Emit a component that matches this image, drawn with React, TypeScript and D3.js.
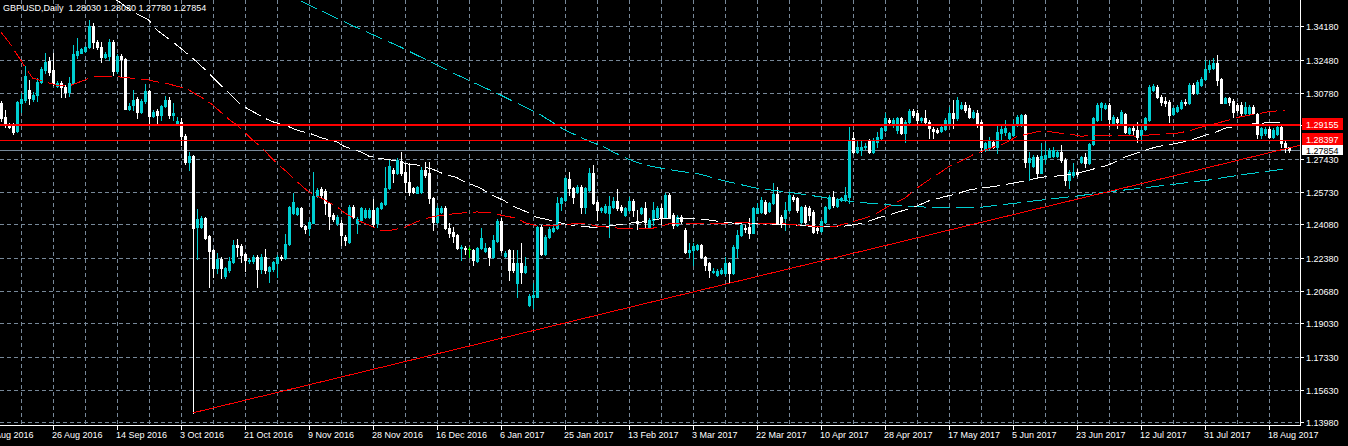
import React from "react";
import * as d3 from "d3";

const TITLE = "GBPUSD,Daily  1.28030 1.28030 1.27780 1.27854";

// bar index of the first candle in the arrays (bar 0 = 8 Aug 2016, 6 bars per week incl. Sunday)
const FIRST_BAR = 3;

const opens = [
  1.3025, 1.2957, 1.2915, 1.2920, 1.2886, 1.3025, 1.3042, 1.3093, 1.3049, 1.3067,
  1.3136, 1.3195, 1.3243, 1.3195, 1.3113, 1.3130, 1.3110, 1.3084, 1.3130, 1.3271,
  1.3283, 1.3294, 1.3311, 1.3419, 1.3339, 1.3314, 1.3263, 1.3266, 1.3339, 1.3190,
  1.3266, 1.3249, 1.2996, 1.3016, 1.3045, 1.2982, 1.3037, 1.3088, 1.2960, 1.2986,
  1.2966, 1.3011, 1.3042, 1.2964, 1.2918, 1.2932, 1.2860, 1.2727, 1.2756, 1.2396,
  1.2396, 1.2442, 1.2348, 1.2277, 1.2184, 1.2231, 1.2144, 1.2175, 1.2218, 1.2303,
  1.2297, 1.2255, 1.2219, 1.2219, 1.2243, 1.2178, 1.2240, 1.2170, 1.2178, 1.2209,
  1.2243, 1.2235, 1.2306, 1.2464, 1.2461, 1.2490, 1.2399, 1.2388, 1.2416, 1.2554,
  1.2586, 1.2580, 1.2518, 1.2456, 1.2413, 1.2416, 1.2342, 1.2320, 1.2498, 1.2413,
  1.2430, 1.2447, 1.2447, 1.2481, 1.2413, 1.2490, 1.2512, 1.2592, 1.2685, 1.2668,
  1.2731, 1.2676, 1.2625, 1.2591, 1.2569, 1.2574, 1.2685, 1.2668, 1.2541, 1.2422,
  1.2473, 1.2493, 1.2391, 1.2371, 1.2353, 1.2285, 1.2285, 1.2282, 1.2277, 1.2223,
  1.2285, 1.2274, 1.2285, 1.2240, 1.2325, 1.2427, 1.2248, 1.2277, 1.2209, 1.2107,
  1.2212, 1.2167, 1.1997, 1.2039, 1.2039, 1.2393, 1.2257, 1.2342, 1.2374, 1.2388,
  1.2515, 1.2532, 1.2637, 1.2591, 1.2574, 1.2600, 1.2498, 1.2583, 1.2668, 1.2524,
  1.2481, 1.2473, 1.2467, 1.2498, 1.2529, 1.2498, 1.2456, 1.2481, 1.2529, 1.2427,
  1.2467, 1.2489, 1.2396, 1.2430, 1.2447, 1.2490, 1.2447, 1.2558, 1.2455, 1.2404,
  1.2447, 1.2379, 1.2269, 1.2277, 1.2280, 1.2302, 1.2240, 1.2209, 1.2165, 1.2150,
  1.2158, 1.2158, 1.2212, 1.2158, 1.2286, 1.2354, 1.2391, 1.2393, 1.2365, 1.2467,
  1.2473, 1.2522, 1.2478, 1.2515, 1.2561, 1.2447, 1.2438, 1.2481, 1.2549, 1.2540,
  1.2422, 1.2495, 1.2490, 1.2473, 1.2387, 1.2376, 1.2422, 1.2490, 1.2549, 1.2501,
  1.2532, 1.2532, 1.2549, 1.2846, 1.2778, 1.2787, 1.2801, 1.2835, 1.2778, 1.2829,
  1.2846, 1.2889, 1.2940, 1.2915, 1.2889, 1.2949, 1.2872, 1.2932, 1.2986, 1.2974,
  1.2940, 1.2949, 1.2932, 1.2892, 1.2889, 1.2886, 1.2892, 1.2923, 1.2977, 1.2949,
  1.3000, 1.3017, 1.3000, 1.2957, 1.2977, 1.2932, 1.2790, 1.2804, 1.2830, 1.2804,
  1.2875, 1.2881, 1.2847, 1.2864, 1.2915, 1.2915, 1.2966, 1.2728, 1.2705, 1.2750,
  1.2671, 1.2744, 1.2753, 1.2756, 1.2756, 1.2779, 1.2736, 1.2634, 1.2660, 1.2677,
  1.2728, 1.2750, 1.2719, 1.2818, 1.2940, 1.3008, 1.3000, 1.3017, 1.2926, 1.2943,
  1.2926, 1.2971, 1.2875, 1.2898, 1.2889, 1.2864, 1.2892, 1.2940, 1.3093, 1.3110,
  1.3059, 1.3039, 1.3034, 1.2971, 1.2988, 1.3003, 1.3034, 1.3025, 1.3119, 1.3076,
  1.3119, 1.3147, 1.3198, 1.3204, 1.3232, 1.3147, 1.3028, 1.3051, 1.3039, 1.3017,
  1.3017, 1.2977, 1.2977, 1.3008, 1.2971, 1.2864, 1.2872, 1.2892, 1.2855, 1.2869,
  1.2903, 1.2821, 1.2803,
];

const highs = [
  1.3039, 1.2991, 1.2923, 1.2926, 1.3039, 1.3076, 1.3215, 1.3144, 1.3084, 1.3153,
  1.3212, 1.3280, 1.3263, 1.3280, 1.3141, 1.3141, 1.3119, 1.3161, 1.3322, 1.3357,
  1.3306, 1.3317, 1.3450, 1.3433, 1.3348, 1.3336, 1.3288, 1.3351, 1.3348, 1.3275,
  1.3275, 1.3254, 1.3025, 1.3093, 1.3056, 1.3045, 1.3124, 1.3093, 1.2991, 1.2994,
  1.3016, 1.3062, 1.3056, 1.3025, 1.2954, 1.2949, 1.2869, 1.2775, 1.2761, 1.2484,
  1.2450, 1.2447, 1.2353, 1.2280, 1.2260, 1.2243, 1.2192, 1.2243, 1.2328, 1.2331,
  1.2308, 1.2263, 1.2235, 1.2251, 1.2251, 1.2258, 1.2280, 1.2195, 1.2223, 1.2251,
  1.2251, 1.2357, 1.2501, 1.2569, 1.2498, 1.2498, 1.2404, 1.2430, 1.2673, 1.2591,
  1.2597, 1.2586, 1.2524, 1.2464, 1.2456, 1.2430, 1.2353, 1.2507, 1.2507, 1.2444,
  1.2498, 1.2490, 1.2490, 1.2535, 1.2498, 1.2524, 1.2699, 1.2736, 1.2694, 1.2744,
  1.2779, 1.2719, 1.2719, 1.2600, 1.2605, 1.2702, 1.2728, 1.2728, 1.2549, 1.2501,
  1.2501, 1.2501, 1.2413, 1.2396, 1.2359, 1.2302, 1.2297, 1.2294, 1.2282, 1.2291,
  1.2388, 1.2311, 1.2294, 1.2353, 1.2433, 1.2439, 1.2274, 1.2280, 1.2277, 1.2277,
  1.2314, 1.2240, 1.2053, 1.2107, 1.2399, 1.2405, 1.2353, 1.2393, 1.2405, 1.2549,
  1.2549, 1.2651, 1.2676, 1.2600, 1.2608, 1.2608, 1.2600, 1.2693, 1.2710, 1.2532,
  1.2498, 1.2512, 1.2552, 1.2549, 1.2586, 1.2507, 1.2498, 1.2549, 1.2535, 1.2481,
  1.2498, 1.2524, 1.2439, 1.2524, 1.2501, 1.2512, 1.2569, 1.2566, 1.2464, 1.2455,
  1.2455, 1.2387, 1.2311, 1.2311, 1.2308, 1.2308, 1.2246, 1.2217, 1.2184, 1.2178,
  1.2184, 1.2243, 1.2217, 1.2302, 1.2379, 1.2422, 1.2404, 1.2438, 1.2498, 1.2515,
  1.2549, 1.2532, 1.2524, 1.2617, 1.2600, 1.2455, 1.2524, 1.2566, 1.2559, 1.2549,
  1.2501, 1.2506, 1.2501, 1.2481, 1.2399, 1.2433, 1.2501, 1.2558, 1.2580, 1.2540,
  1.2549, 1.2600, 1.2906, 1.2880, 1.2838, 1.2838, 1.2821, 1.2841, 1.2846, 1.2880,
  1.2906, 1.2974, 1.2949, 1.2949, 1.2957, 1.2957, 1.2940, 1.2994, 1.2994, 1.2991,
  1.2957, 1.2991, 1.2940, 1.2906, 1.2897, 1.2915, 1.2949, 1.3008, 1.3042, 1.3057,
  1.3034, 1.3034, 1.3017, 1.2991, 1.2991, 1.2940, 1.2830, 1.2855, 1.2838, 1.2915,
  1.2915, 1.2940, 1.2881, 1.2940, 1.2966, 1.2971, 1.2971, 1.2779, 1.2761, 1.2761,
  1.2821, 1.2821, 1.2796, 1.2804, 1.2787, 1.2813, 1.2745, 1.2685, 1.2719, 1.2688,
  1.2756, 1.2770, 1.2824, 1.2954, 1.3025, 1.3034, 1.3028, 1.3025, 1.2966, 1.2954,
  1.2991, 1.2977, 1.2906, 1.2909, 1.2932, 1.2898, 1.2957, 1.3119, 1.3122, 1.3119,
  1.3068, 1.3059, 1.3042, 1.3008, 1.3017, 1.3042, 1.3045, 1.3127, 1.3127, 1.3144,
  1.3158, 1.3246, 1.3246, 1.3255, 1.3272, 1.3153, 1.3059, 1.3059, 1.3045, 1.3025,
  1.3034, 1.3034, 1.3017, 1.3017, 1.2977, 1.2906, 1.2906, 1.2903, 1.2898, 1.2915,
  1.2909, 1.2838, 1.2803,
];

const lows = [
  1.2937, 1.2903, 1.2897, 1.2869, 1.2881, 1.2983, 1.3034, 1.3022, 1.3039, 1.3039,
  1.3127, 1.3178, 1.3170, 1.3119, 1.3107, 1.3059, 1.3059, 1.3062, 1.3127, 1.3254,
  1.3280, 1.3289, 1.3306, 1.3306, 1.3300, 1.3237, 1.3254, 1.3246, 1.3170, 1.3181,
  1.3161, 1.2994, 1.2991, 1.2991, 1.2948, 1.2974, 1.3028, 1.2923, 1.2954, 1.2923,
  1.2940, 1.3005, 1.2948, 1.2940, 1.2915, 1.2813, 1.2716, 1.2685, 1.1446, 1.2229,
  1.2388, 1.2331, 1.2090, 1.2141, 1.2158, 1.2133, 1.2133, 1.2166, 1.2212, 1.2246,
  1.2218, 1.2170, 1.2212, 1.2209, 1.2087, 1.2158, 1.2158, 1.2116, 1.2172, 1.2141,
  1.2226, 1.2229, 1.2301, 1.2461, 1.2456, 1.2396, 1.2365, 1.2354, 1.2413, 1.2549,
  1.2549, 1.2461, 1.2382, 1.2427, 1.2404, 1.2302, 1.2302, 1.2314, 1.2439, 1.2362,
  1.2422, 1.2439, 1.2439, 1.2396, 1.2396, 1.2484, 1.2507, 1.2586, 1.2626, 1.2663,
  1.2660, 1.2574, 1.2557, 1.2566, 1.2566, 1.2569, 1.2651, 1.2515, 1.2379, 1.2416,
  1.2467, 1.2382, 1.2345, 1.2319, 1.2280, 1.2226, 1.2257, 1.2243, 1.2200, 1.2217,
  1.2280, 1.2268, 1.2200, 1.2234, 1.2319, 1.2268, 1.2243, 1.2124, 1.2167, 1.2039,
  1.2107, 1.2161, 1.1991, 1.1980, 1.2036, 1.2251, 1.2251, 1.2337, 1.2369, 1.2382,
  1.2481, 1.2529, 1.2557, 1.2518, 1.2566, 1.2464, 1.2464, 1.2578, 1.2512, 1.2430,
  1.2473, 1.2464, 1.2345, 1.2493, 1.2481, 1.2473, 1.2450, 1.2476, 1.2450, 1.2382,
  1.2461, 1.2396, 1.2391, 1.2405, 1.2438, 1.2410, 1.2444, 1.2438, 1.2387, 1.2399,
  1.2416, 1.2263, 1.2243, 1.2201, 1.2277, 1.2234, 1.2175, 1.2141, 1.2158, 1.2144,
  1.2153, 1.2150, 1.2107, 1.2155, 1.2243, 1.2348, 1.2371, 1.2337, 1.2362, 1.2464,
  1.2467, 1.2461, 1.2473, 1.2512, 1.2410, 1.2396, 1.2379, 1.2476, 1.2527, 1.2473,
  1.2416, 1.2416, 1.2430, 1.2365, 1.2365, 1.2371, 1.2416, 1.2484, 1.2498, 1.2495,
  1.2529, 1.2529, 1.2515, 1.2773, 1.2770, 1.2762, 1.2794, 1.2773, 1.2773, 1.2804,
  1.2841, 1.2886, 1.2920, 1.2906, 1.2872, 1.2867, 1.2829, 1.2926, 1.2957, 1.2915,
  1.2932, 1.2923, 1.2846, 1.2846, 1.2872, 1.2880, 1.2889, 1.2915, 1.2897, 1.2940,
  1.2994, 1.2983, 1.2949, 1.2949, 1.2906, 1.2779, 1.2784, 1.2787, 1.2796, 1.2770,
  1.2838, 1.2864, 1.2838, 1.2858, 1.2910, 1.2910, 1.2702, 1.2634, 1.2699, 1.2643,
  1.2668, 1.2719, 1.2750, 1.2750, 1.2753, 1.2728, 1.2609, 1.2592, 1.2651, 1.2654,
  1.2722, 1.2702, 1.2716, 1.2813, 1.2937, 1.2940, 1.2994, 1.2909, 1.2915, 1.2898,
  1.2923, 1.2875, 1.2869, 1.2864, 1.2830, 1.2838, 1.2889, 1.2937, 1.3088, 1.3054,
  1.3017, 1.3011, 1.2932, 1.2966, 1.2983, 1.2998, 1.3017, 1.3020, 1.3071, 1.3071,
  1.3113, 1.3144, 1.3187, 1.3198, 1.3119, 1.3025, 1.3025, 1.3017, 1.2957, 1.2983,
  1.2966, 1.2971, 1.2971, 1.2971, 1.2847, 1.2847, 1.2864, 1.2847, 1.2850, 1.2864,
  1.2804, 1.2779, 1.2778,
];

const closes = [
  1.2948, 1.2915, 1.2903, 1.2881, 1.3030, 1.3049, 1.3165, 1.3051, 1.3067, 1.3136,
  1.3198, 1.3237, 1.3186, 1.3127, 1.3130, 1.3107, 1.3084, 1.3130, 1.3275, 1.3292,
  1.3300, 1.3311, 1.3419, 1.3339, 1.3311, 1.3263, 1.3277, 1.3339, 1.3190, 1.3266,
  1.3249, 1.2998, 1.3013, 1.3042, 1.2982, 1.3037, 1.3088, 1.2960, 1.2982, 1.2964,
  1.3011, 1.3042, 1.2966, 1.2977, 1.2935, 1.2860, 1.2724, 1.2756, 1.2388, 1.2433,
  1.2442, 1.2340, 1.2274, 1.2187, 1.2231, 1.2184, 1.2184, 1.2223, 1.2303, 1.2294,
  1.2252, 1.2226, 1.2226, 1.2243, 1.2178, 1.2243, 1.2175, 1.2189, 1.2216, 1.2243,
  1.2235, 1.2306, 1.2495, 1.2524, 1.2490, 1.2399, 1.2384, 1.2422, 1.2554, 1.2583,
  1.2558, 1.2515, 1.2450, 1.2433, 1.2447, 1.2353, 1.2328, 1.2498, 1.2447, 1.2433,
  1.2490, 1.2481, 1.2481, 1.2410, 1.2490, 1.2515, 1.2592, 1.2705, 1.2668, 1.2736,
  1.2668, 1.2625, 1.2574, 1.2574, 1.2600, 1.2685, 1.2660, 1.2541, 1.2422, 1.2493,
  1.2493, 1.2388, 1.2362, 1.2348, 1.2285, 1.2291, 1.2280, 1.2282, 1.2226, 1.2285,
  1.2337, 1.2285, 1.2240, 1.2328, 1.2427, 1.2277, 1.2263, 1.2175, 1.2175, 1.2209,
  1.2167, 1.2195, 1.2044, 1.2048, 1.2393, 1.2257, 1.2345, 1.2382, 1.2391, 1.2515,
  1.2541, 1.2642, 1.2591, 1.2549, 1.2600, 1.2498, 1.2591, 1.2668, 1.2518, 1.2481,
  1.2489, 1.2501, 1.2501, 1.2529, 1.2489, 1.2481, 1.2489, 1.2529, 1.2481, 1.2416,
  1.2489, 1.2422, 1.2430, 1.2481, 1.2490, 1.2447, 1.2558, 1.2447, 1.2404, 1.2447,
  1.2427, 1.2269, 1.2277, 1.2297, 1.2302, 1.2240, 1.2201, 1.2175, 1.2172, 1.2172,
  1.2175, 1.2212, 1.2158, 1.2294, 1.2354, 1.2404, 1.2382, 1.2365, 1.2490, 1.2490,
  1.2532, 1.2467, 1.2515, 1.2561, 1.2413, 1.2413, 1.2481, 1.2558, 1.2535, 1.2481,
  1.2495, 1.2422, 1.2455, 1.2371, 1.2379, 1.2427, 1.2495, 1.2549, 1.2507, 1.2532,
  1.2540, 1.2558, 1.2838, 1.2778, 1.2804, 1.2804, 1.2807, 1.2778, 1.2838, 1.2855,
  1.2897, 1.2949, 1.2928, 1.2940, 1.2949, 1.2872, 1.2932, 1.2986, 1.2966, 1.2940,
  1.2949, 1.2932, 1.2897, 1.2886, 1.2880, 1.2906, 1.2940, 1.2974, 1.2949, 1.3042,
  1.3017, 1.2991, 1.2957, 1.2983, 1.2923, 1.2804, 1.2821, 1.2838, 1.2804, 1.2881,
  1.2892, 1.2898, 1.2872, 1.2915, 1.2957, 1.2966, 1.2728, 1.2748, 1.2750, 1.2671,
  1.2756, 1.2761, 1.2787, 1.2787, 1.2779, 1.2736, 1.2634, 1.2677, 1.2677, 1.2665,
  1.2750, 1.2719, 1.2818, 1.2949, 1.3017, 1.3025, 1.3017, 1.2943, 1.2954, 1.2932,
  1.2983, 1.2881, 1.2898, 1.2889, 1.2855, 1.2889, 1.2949, 1.3110, 1.3115, 1.3059,
  1.3034, 1.3028, 1.2966, 1.3000, 1.3008, 1.3034, 1.3025, 1.3119, 1.3076, 1.3136,
  1.3147, 1.3198, 1.3221, 1.3232, 1.3144, 1.3028, 1.3051, 1.3034, 1.2983, 1.2991,
  1.2974, 1.3008, 1.3008, 1.2977, 1.2869, 1.2898, 1.2892, 1.2855, 1.2889, 1.2903,
  1.2821, 1.2804, 1.27854,
];

// moving averages: [bar index, price]
const redMa = [
  [3, 1.3390], [5, 1.3339], [8, 1.3246], [9, 1.3212], [11, 1.3154], [14, 1.3135], [17, 1.3118], [20, 1.3113],
  [24, 1.3144], [26, 1.3161], [29, 1.3164], [32, 1.3161], [36, 1.3153], [40, 1.3144], [42, 1.3135], [45, 1.3124],
  [48, 1.3107], [50, 1.3093], [54, 1.3046], [56, 1.3017], [60, 1.2944], [62, 1.2915], [66, 1.2838], [68, 1.2804],
  [72, 1.2719], [74, 1.2685], [78, 1.2609], [80, 1.2574], [84, 1.2532], [87, 1.2498], [89, 1.2466], [92, 1.2430],
  [96, 1.2396], [98, 1.2374], [101, 1.2379], [104, 1.2393], [107, 1.2421], [110, 1.2442], [112, 1.2450], [116, 1.2461],
  [119, 1.2467], [122, 1.2471], [126, 1.2467], [128, 1.2455], [132, 1.2439], [134, 1.2416], [137, 1.2401], [140, 1.2401],
  [142, 1.2404], [146, 1.2410], [149, 1.2413], [152, 1.2399], [156, 1.2391], [159, 1.2386], [162, 1.2386], [166, 1.2388],
  [170, 1.2410], [176, 1.2410], [182, 1.2410], [188, 1.2416], [193, 1.2413], [199, 1.2410], [204, 1.2401], [209, 1.2396],
  [212, 1.2399], [215, 1.2416], [219, 1.2439], [222, 1.2464], [225, 1.2501], [229, 1.2541], [232, 1.2592], [235, 1.2634],
  [237, 1.2660], [240, 1.2702], [244, 1.2740], [246, 1.2762], [248, 1.2778], [251, 1.2801], [254, 1.2821], [257, 1.2855],
  [262, 1.2880], [264, 1.2885], [267, 1.2875], [270, 1.2869], [273, 1.2858], [277, 1.2860], [280, 1.2862], [283, 1.2860],
  [287, 1.2858], [292, 1.2867], [297, 1.2872], [300, 1.2884], [303, 1.2903], [307, 1.2923], [310, 1.2940], [313, 1.2957],
  [317, 1.2971], [320, 1.2982], [324, 1.2991],
];

const whiteMa = [
  [32, 1.3552], [36, 1.3492], [40, 1.3450], [42, 1.3399], [46, 1.3339], [48, 1.3306], [52, 1.3237], [54, 1.3199],
  [58, 1.3118], [60, 1.3079], [63, 1.3017], [65, 1.2995], [69, 1.2949], [71, 1.2931], [75, 1.2906], [77, 1.2889],
  [81, 1.2867], [83, 1.2850], [87, 1.2829], [89, 1.2804], [93, 1.2778], [95, 1.2756], [99, 1.2740], [102, 1.2732],
  [105, 1.2714], [107, 1.2711], [111, 1.2689], [113, 1.2671], [117, 1.2646], [119, 1.2625], [123, 1.2592], [125, 1.2566],
  [129, 1.2527], [131, 1.2501], [135, 1.2467], [137, 1.2444], [141, 1.2426], [144, 1.2410], [147, 1.2399], [151, 1.2393],
  [154, 1.2396], [157, 1.2405], [161, 1.2416], [164, 1.2421], [167, 1.2434], [170, 1.2439], [175, 1.2439], [180, 1.2430],
  [183, 1.2421], [188, 1.2410], [193, 1.2410], [197, 1.2408], [201, 1.2404], [205, 1.2399], [210, 1.2396], [213, 1.2396],
  [216, 1.2405], [219, 1.2416], [222, 1.2439], [225, 1.2455], [229, 1.2481], [232, 1.2501], [235, 1.2527], [239, 1.2549],
  [242, 1.2563], [245, 1.2583], [248, 1.2592], [252, 1.2603], [255, 1.2614], [258, 1.2625], [263, 1.2648], [267, 1.2654],
  [272, 1.2668], [276, 1.2689], [280, 1.2711], [284, 1.2750], [288, 1.2778], [292, 1.2804], [297, 1.2821], [300, 1.2834],
  [303, 1.2855], [307, 1.2880], [309, 1.2898], [312, 1.2909], [317, 1.2923], [320, 1.2926], [324, 1.2926],
];

const cyanMa = [
  [78, 1.3547], [90, 1.3430], [103, 1.3312], [115, 1.3190], [128, 1.3067], [138, 1.2966], [144, 1.2889], [150, 1.2833],
  [154, 1.2801], [156, 1.2778], [160, 1.2740], [162, 1.2724], [166, 1.2702], [172, 1.2681], [178, 1.2663], [184, 1.2629],
  [192, 1.2592], [199, 1.2574], [205, 1.2557], [210, 1.2541], [216, 1.2523], [222, 1.2512], [229, 1.2501], [235, 1.2495],
  [242, 1.2495], [248, 1.2495], [265, 1.2536], [272, 1.2552], [280, 1.2574], [288, 1.2592], [297, 1.2614], [305, 1.2634],
  [313, 1.2660], [322, 1.2685], [325, 1.2689],
];

const trendAnchors = [[51, 1.1446], [325, 1.2797]];
const hLinePrices = [1.29155, 1.28397];
const bidPrice = 1.27854;

const priceTicks = [1.3418, 1.3248, 1.3078, 1.2913, 1.2743, 1.2573, 1.2408, 1.2238, 1.2068, 1.1903, 1.1733, 1.1563, 1.1398];
const dateLabels = [
  "8 Aug 2016", "26 Aug 2016", "14 Sep 2016", "3 Oct 2016", "21 Oct 2016", "9 Nov 2016", "28 Nov 2016",
  "16 Dec 2016", "6 Jan 2017", "25 Jan 2017", "13 Feb 2017", "3 Mar 2017", "22 Mar 2017", "10 Apr 2017",
  "28 Apr 2017", "17 May 2017", "5 Jun 2017", "23 Jun 2017", "12 Jul 2017", "31 Jul 2017", "18 Aug 2017",
];
const LABEL_EVERY = 16;
const GRID_EVERY = 8;

const BG = "#000000";
const GRID = "#778899";
const BULL = "#00CED1";
const BEAR = "#FFFFFF";
const DOJI = "#00FF00";
const RED = "#FF0000";
const FONT = "'Liberation Sans', Arial, sans-serif";

export default function App() {
  const W = 1348, H = 446;
  const PLOT_R = 1300, PLOT_B = 425;
  const x = d3.scaleLinear().domain([0, 320]).range([-11.3, 1268.7]);
  const y = d3.scaleLinear().domain([1.1398, 1.3418]).range([422.3, 26.3]);
  const px = (i: number) => Math.round(x(i));
  const py = (p: number) => Math.round(y(p));

  const n = Math.min(opens.length, highs.length, lows.length, closes.length);
  const candles = d3.range(n).map((k) => ({ i: FIRST_BAR + k, o: opens[k], h: highs[k], l: lows[k], c: closes[k] }));

  const gridBars = d3.range(0, 321, GRID_EVERY);
  const maLine = d3.line<number[]>().x((d) => x(d[0])).y((d) => y(d[1]));

  const [a, b] = trendAnchors;
  const tx1 = x(a[0]), ty1 = y(a[1]), tx2 = x(b[0]), ty2 = y(b[1]);
  const slope = (ty2 - ty1) / (tx2 - tx1);
  const tyEnd = ty1 + slope * (PLOT_R - tx1);

  return (
    <div style={{ position: "fixed", left: 0, top: 0, width: W, height: H, background: BG }}>
      <svg width={W} height={H} style={{ display: "block" }} fontFamily={FONT}>
        <defs>
          <clipPath id="plotClip">
            <rect x={0} y={0} width={PLOT_R} height={PLOT_B} />
          </clipPath>
        </defs>
        <rect x={0} y={0} width={W} height={H} fill={BG} />
        <g clipPath="url(#plotClip)" shapeRendering="crispEdges">
          {priceTicks.map((t) => (
            <line key={"hg" + t} x1={0} x2={PLOT_R} y1={py(t) + 0.5} y2={py(t) + 0.5} stroke={GRID} strokeDasharray="4 3" />
          ))}
          {gridBars.map((g) => (
            <line key={"vg" + g} x1={px(g) + 0.5} x2={px(g) + 0.5} y1={0} y2={PLOT_B} stroke={GRID} strokeDasharray="4 3" />
          ))}
          <line x1={0} x2={PLOT_R} y1={py(bidPrice) + 0.5} y2={py(bidPrice) + 0.5} stroke={GRID} strokeWidth={1} />
          {candles.map((d) => {
            const cx = px(d.i);
            const top = py(Math.max(d.o, d.c));
            const bot = py(Math.min(d.o, d.c));
            const color = d.c === d.o ? DOJI : d.c > d.o ? BULL : BEAR;
            return (
              <g key={"c" + d.i}>
                <line x1={cx + 0.5} x2={cx + 0.5} y1={py(d.h)} y2={py(d.l) + 1} stroke={color} strokeWidth={1} />
                {d.c === d.o ? (
                  <line x1={cx - 1} x2={cx + 2} y1={top + 0.5} y2={top + 0.5} stroke={color} strokeWidth={1} />
                ) : (
                  <rect x={cx - 1} y={top} width={3} height={Math.max(1, bot - top + 1)} fill={color} />
                )}
              </g>
            );
          })}
          <path d={maLine(cyanMa) || ""} fill="none" stroke={BULL} strokeWidth={1} strokeDasharray="18 6" />
          <path d={maLine(whiteMa) || ""} fill="none" stroke="#FFFFFF" strokeWidth={1} strokeDasharray="18 6" />
          <path d={maLine(redMa) || ""} fill="none" stroke={RED} strokeWidth={1} strokeDasharray="18 6" />
          <line x1={tx1} y1={ty1} x2={PLOT_R} y2={tyEnd} stroke={RED} strokeWidth={1} />
          <line x1={0} x2={PLOT_R} y1={py(hLinePrices[0])} y2={py(hLinePrices[0])} stroke={RED} strokeWidth={2} />
          <line x1={0} x2={PLOT_R} y1={py(hLinePrices[1]) + 0.5} y2={py(hLinePrices[1]) + 0.5} stroke={RED} strokeWidth={1} />
        </g>

        {/* axes */}
        <g shapeRendering="crispEdges">
          <line x1={PLOT_R + 0.5} x2={PLOT_R + 0.5} y1={0} y2={PLOT_B + 1} stroke="#FFFFFF" />
          <line x1={0} x2={PLOT_R + 1} y1={PLOT_B + 0.5} y2={PLOT_B + 0.5} stroke="#FFFFFF" />
          {priceTicks.map((t) => (
            <line key={"yt" + t} x1={PLOT_R} x2={PLOT_R + 4} y1={py(t) + 0.5} y2={py(t) + 0.5} stroke="#FFFFFF" />
          ))}
          {dateLabels.map((lab, k) => (
            <line key={"xt" + lab} x1={px(k * LABEL_EVERY) + 0.5} x2={px(k * LABEL_EVERY) + 0.5} y1={PLOT_B} y2={PLOT_B + 5} stroke="#FFFFFF" />
          ))}
        </g>
        {priceTicks.map((t) => (
          <text key={"yl" + t} x={1306} y={py(t) + 3.5} fontSize={9} fill="#FFFFFF">
            {t.toFixed(5)}
          </text>
        ))}
        {dateLabels.map((lab, k) => (
          <text key={"xl" + lab} x={px(k * LABEL_EVERY) - 1} y={438} fontSize={9} fill="#FFFFFF">
            {lab}
          </text>
        ))}

        {/* price labels of horizontal lines */}
        {hLinePrices.map((p) => (
          <g key={"hl" + p}>
            <rect x={1302} y={py(p) - 7} width={41} height={12} fill={RED} shapeRendering="crispEdges" />
            <text x={1306} y={py(p) + 2.5} fontSize={9} fill="#FFFFFF">{p.toFixed(5)}</text>
          </g>
        ))}
        <rect x={1302} y={py(bidPrice) - 5} width={41} height={10} fill="#FFFFFF" shapeRendering="crispEdges" />
        <text x={1306} y={py(bidPrice) + 3.5} fontSize={9} fill="#000000">{bidPrice.toFixed(5)}</text>

        <text x={3} y={11} fontSize={9} fill="#FFFFFF" style={{ whiteSpace: "pre" }}>
          {TITLE}
        </text>
      </svg>
    </div>
  );
}
